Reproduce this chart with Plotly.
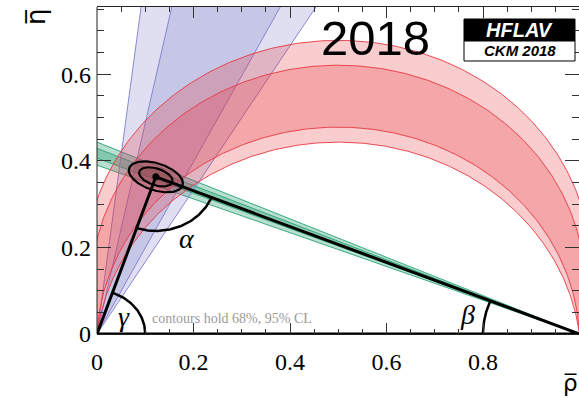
import numpy as np
import plotly.graph_objects as go

# ---- fit result for the apex of the unitarity triangle ----
apex_rho = 0.122
apex_eta = 0.363
sigma_rho = 0.0229
sigma_eta = 0.0146
rho_corr = -0.42
contour_chi2 = [2.30, 5.99]          # 68% and 95% CL in two dimensions

# ---- angle constraints (degrees): [low, high] ----
alpha_95 = [72.8, 96.9]
alpha_68 = [77.7, 92.6]
gamma_95 = [59.0, 83.1]
gamma_68 = [63.3, 78.4]
beta_95 = [21.3, 23.9]
beta_68 = [22.1, 23.2]

x_ticks = [0, 0.2, 0.4, 0.6, 0.8]
y_ticks = [0, 0.2, 0.4, 0.6]

# ---- page geometry ----
W, H = 579, 398
ML, MR, MT, MB = 97, 0, 7, 64
PX_PER_RHO, PX_PER_ETA = 482.5, 433.0
PW, PH = W - ML - MR, H - MT - MB
x_range = [0, PW / PX_PER_RHO]
y_range = [0, PH / PX_PER_ETA]

RED_FILL = "rgba(230,50,60,0.25)"
RED_LINE = "rgba(232,55,65,0.9)"
BLUE_FILL = "rgba(110,110,190,0.22)"
BLUE_LINE = "rgba(125,125,205,0.9)"
GREEN_FILL = "rgba(20,150,100,0.30)"
GREEN_LINE = "rgba(40,165,115,0.9)"

fig = go.Figure()


def band(xs, ys, fill, line):
    fig.add_trace(go.Scatter(x=xs, y=ys, mode="lines", fill="toself",
                             fillcolor=fill, line=dict(color=line, width=1),
                             hoverinfo="skip", showlegend=False))


def alpha_arc(a_deg, n=300):
    """Locus of points seeing the base (0,0)-(1,0) under angle alpha."""
    a = np.radians(a_deg)
    k = 0.5 / np.tan(a)
    r = 0.5 / np.sin(a)
    phi0 = np.arctan2(-k, 0.5)
    phi = np.linspace(phi0, np.pi - phi0, n)
    return 0.5 + r * np.cos(phi), k + r * np.sin(phi)


# beta bands through (1,0)
for lo, hi in (beta_95, beta_68):
    far = 1.2
    band([1, 1 - far, 1 - far, 1],
         [0, far * np.tan(np.radians(lo)), far * np.tan(np.radians(hi)), 0],
         GREEN_FILL, GREEN_LINE)

# gamma wedges from the origin
for lo, hi in (gamma_95, gamma_68):
    top = 1.0
    band([0, top / np.tan(np.radians(hi)), top / np.tan(np.radians(lo)), 0],
         [0, top, top, 0], BLUE_FILL, BLUE_LINE)

# alpha bands
for lo, hi in (alpha_95, alpha_68):
    xo, yo = alpha_arc(lo)
    xi, yi = alpha_arc(hi)
    band(np.r_[xo, xi[::-1]], np.r_[yo, yi[::-1]], RED_FILL, RED_LINE)

# fit contours around the apex
cov = np.array([[sigma_rho ** 2, rho_corr * sigma_rho * sigma_eta],
                [rho_corr * sigma_rho * sigma_eta, sigma_eta ** 2]])
chol = np.linalg.cholesky(cov)
t = np.linspace(0, 2 * np.pi, 200)
circle = np.vstack([np.cos(t), np.sin(t)])
for c2 in sorted(contour_chi2, reverse=True):
    pts = np.sqrt(c2) * chol @ circle
    fig.add_trace(go.Scatter(x=apex_rho + pts[0], y=apex_eta + pts[1],
                             mode="lines", fill="toself",
                             fillcolor="rgba(120,30,30,0.15)",
                             line=dict(color="black", width=2.2),
                             hoverinfo="skip", showlegend=False))

# unitarity triangle
fig.add_trace(go.Scatter(x=[0, apex_rho, 1, 0], y=[0, apex_eta, 0, 0],
                         mode="lines", line=dict(color="black", width=3),
                         hoverinfo="skip", showlegend=False))
fig.add_trace(go.Scatter(x=[apex_rho], y=[apex_eta], mode="markers",
                         marker=dict(color="black", size=7),
                         hoverinfo="skip", showlegend=False))

# angle arcs and their labels
ang_origin_apex = np.arctan2(apex_eta, apex_rho)
ang_apex_origin = np.arctan2(-apex_eta, -apex_rho)
ang_apex_one = np.arctan2(-apex_eta, 1 - apex_rho)
ang_one_apex = np.arctan2(apex_eta, apex_rho - 1)
arcs = [
    # centre, radius, start, stop, label, label radius
    ((0.0, 0.0), 0.10, 0.0, ang_origin_apex, "γ", 0.07),
    ((apex_rho, apex_eta), 0.125, ang_apex_origin, ang_apex_one, "α", 0.156),
    ((1.0, 0.0), 0.20, ang_one_apex, np.pi, "β", 0.237),
]
for (cx, cy), r, a0, a1, lab, rl in arcs:
    ph = np.linspace(a0, a1, 80)
    fig.add_trace(go.Scatter(x=cx + r * np.cos(ph), y=cy + r * np.sin(ph),
                             mode="lines", line=dict(color="black", width=2.5),
                             hoverinfo="skip", showlegend=False))
    mid = 0.5 * (a0 + a1)
    fig.add_annotation(x=cx + rl * np.cos(mid), y=cy + rl * np.sin(mid),
                       text=lab, showarrow=False,
                       xanchor="center", yanchor="middle",
                       font=dict(family="Liberation Serif", size=28,
                                 color="black", style="italic"))


def px(xp, yp):
    """pixel position -> paper coordinates"""
    return (xp - ML) / PW, (H - MB - yp) / PH


tick_font = dict(family="Liberation Serif", size=24, color="black")
axis_common = dict(showgrid=False, zeroline=False, ticks="inside",
                   tickcolor="#333", tickwidth=1)
fig.update_layout(
    width=W, height=H,
    margin=dict(l=ML, r=MR, t=MT, b=MB, pad=0),
    paper_bgcolor="white", plot_bgcolor="white",
    xaxis=dict(range=x_range, tickvals=x_ticks, ticktext=["0", "0.2", "0.4", "0.6", "0.8"],
               ticklen=11, showline=True, linecolor="#222", linewidth=1,
               mirror="ticks", tickfont=tick_font, ticklabelstandoff=6,
               minor=dict(dtick=0.05, tick0=0, ticklen=5, ticks="inside",
                          tickcolor="#333"), **axis_common),
    yaxis=dict(range=y_range, tickvals=y_ticks, ticktext=["0", "0.2", "0.4", "0.6"],
               ticklen=14, showline=False, mirror="ticks",
               tickfont=tick_font, ticklabelstandoff=5,
               minor=dict(dtick=0.05, tick0=0, ticklen=7, ticks="inside",
                          tickcolor="#333"), **axis_common),
    showlegend=False,
)

# left frame line
fig.add_shape(type="line", xref="paper", yref="paper", x0=0, x1=0, y0=0, y1=1,
              line=dict(color="#222", width=1))

# axis titles
fig.add_annotation(xref="paper", yref="paper", x=px(36, 0)[0], y=px(0, 17)[1],
                   text="η\u0305", textangle=-90, showarrow=False,
                   xanchor="center", yanchor="middle",
                   font=dict(family="DejaVu Sans", size=26, color="black"))
fig.add_annotation(xref="paper", yref="paper", x=px(570, 0)[0], y=px(0, 383)[1],
                   text="ρ\u0305", showarrow=False,
                   xanchor="center", yanchor="middle",
                   font=dict(family="DejaVu Sans", size=23, color="black"))

# year
fig.add_annotation(xref="paper", yref="paper", x=px(375, 0)[0], y=px(0, 38)[1],
                   text="2018", showarrow=False,
                   xanchor="center", yanchor="middle",
                   font=dict(family="Liberation Sans", size=49, color="black"))

# HFLAV logo
lx0, ly_top = px(464, 19)
lx1, ly_mid = px(575, 41)
_, ly_bot = px(575, 61)
fig.add_shape(type="rect", xref="paper", yref="paper", x0=lx0, x1=lx1,
              y0=ly_mid, y1=ly_top, fillcolor="black",
              line=dict(color="black", width=1))
fig.add_shape(type="rect", xref="paper", yref="paper", x0=lx0, x1=lx1,
              y0=ly_bot, y1=ly_mid, fillcolor="white",
              line=dict(color="black", width=1))
fig.add_annotation(xref="paper", yref="paper", x=(lx0 + lx1) / 2,
                   y=(ly_top + ly_mid) / 2, text="HFLAV", showarrow=False,
                   xanchor="center", yanchor="middle",
                   font=dict(family="Liberation Sans", size=20, color="white",
                             weight="bold", style="italic"))
fig.add_annotation(xref="paper", yref="paper", x=(lx0 + lx1) / 2,
                   y=(ly_mid + ly_bot) / 2, text="CKM 2018", showarrow=False,
                   xanchor="center", yanchor="middle",
                   font=dict(family="Liberation Sans", size=15, color="black",
                             weight="bold", style="italic"))

# contour note
fig.add_annotation(xref="paper", yref="paper", x=px(150, 0)[0], y=px(0, 318)[1],
                   text="contours hold 68%, 95% CL", showarrow=False,
                   xanchor="left", yanchor="middle",
                   font=dict(family="Liberation Serif", size=14, color="#9a9a9a"))

fig.write_html("out.html")
